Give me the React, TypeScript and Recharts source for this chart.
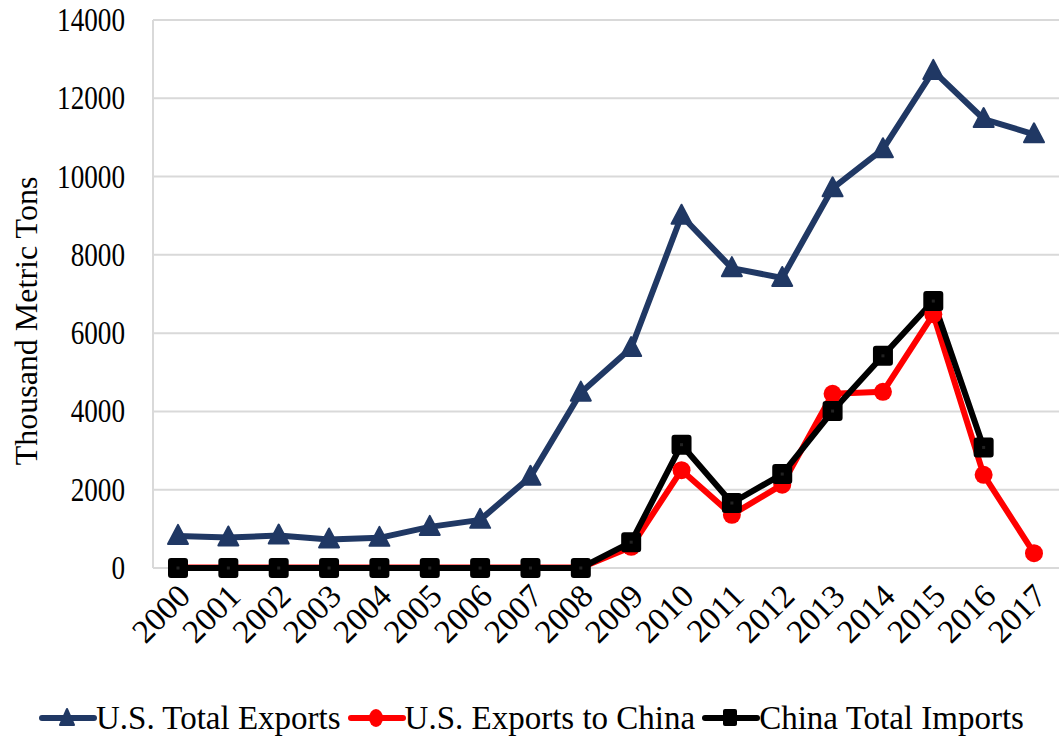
import React from "react";
import { LineChart, Line, XAxis, YAxis, CartesianGrid } from "recharts";

const years = ["2000","2001","2002","2003","2004","2005","2006","2007","2008","2009","2010","2011","2012","2013","2014","2015","2016","2017"];
const usTotalExports = [820,780,830,730,770,1050,1230,2330,4480,5620,9000,7660,7410,9700,10700,12700,11470,11080];
const usExportsToChina = [10,10,10,10,10,10,10,10,10,540,2500,1360,2130,4450,4500,6480,2380,380];
const chinaTotalImports = [0,0,0,0,0,0,0,0,0,660,3150,1660,2400,4010,5420,6820,3080,null];
const yTicks = [0,2000,4000,6000,8000,10000,12000,14000];

const data = years.map((y, i) => ({
  year: y,
  total: usTotalExports[i],
  china: usExportsToChina[i],
  imports: chinaTotalImports[i],
}));

const NAVY = "#203864";
const FONT = "'Liberation Serif', 'Times New Roman', serif";

const Triangle = (props: any) => {
  const { cx, cy } = props;
  if (cx == null || cy == null) return null;
  const s = 10;
  return <path d={`M${cx},${cy - s - 1} L${cx + s},${cy + s - 2} L${cx - s},${cy + s - 2} Z`} fill={NAVY} stroke={NAVY} strokeWidth={2} strokeLinejoin="round" />;
};
const Dot = (props: any) => {
  const { cx, cy } = props;
  if (cx == null || cy == null) return null;
  return <circle cx={cx} cy={cy} r={9} fill="#FF0000" />;
};
const Square = (props: any) => {
  const { cx, cy, payload } = props;
  if (cx == null || cy == null || payload?.imports == null) return null;
  return (
    <g>
      <rect x={cx - 9} y={cy - 9} width={18} height={18} rx={2} fill="#000" stroke="#000" strokeWidth={2} />
      <rect x={cx - 1.5} y={cy - 1.5} width={3} height={3} fill="#222" />
    </g>
  );
};

const XTick = (props: any) => {
  const { x, y, payload } = props;
  return (
    <g transform={`translate(${x + 7},${y + 15})`}>
      <text textAnchor="end" transform="rotate(-45)" fontFamily={FONT} fontSize={33} fill="#000" dy={10}>
        {payload.value}
      </text>
    </g>
  );
};

const YTick = (props: any) => {
  const { x, y, payload } = props;
  return (
    <g transform={`translate(${x},${y})`}>
      <text textAnchor="end" transform="scale(0.8,1)" fontFamily={FONT} fontSize={34} fill="#000" dy={11}>
        {payload.value}
      </text>
    </g>
  );
};

const YTitle = (props: any) => {
  const vb = props.viewBox || {};
  const cx = (vb.x ?? 0) + 26;
  const cy = (vb.y ?? 0) + (vb.height ?? 0) / 2 + 27;
  return (
    <text x={cx} y={cy} transform={`rotate(-90, ${cx}, ${cy})`} textAnchor="middle" dominantBaseline="central" fontFamily={FONT} fontSize={32} fill="#000">
      Thousand Metric Tons
    </text>
  );
};

const LegendItem = ({ kind, label }: { kind: string; label: string }) => {
  let marker: any = null;
  if (kind === "tri") marker = <path d="M29,5 L36,21 L22,21 Z" fill={NAVY} stroke={NAVY} strokeWidth={2} strokeLinejoin="round" />;
  if (kind === "dot") marker = <ellipse cx={29} cy={14} rx={7} ry={9} fill="#FF0000" />;
  if (kind === "sq") marker = <rect x={22} y={5} width={14} height={17} rx={2} fill="#000" />;
  const color = kind === "tri" ? NAVY : kind === "dot" ? "#FF0000" : "#000";
  return (
    <span style={{ display: "inline-flex", alignItems: "center" }}>
      <svg width={60} height={28}>
        <line x1={4} y1={14} x2={56} y2={14} stroke={color} strokeWidth={6} strokeLinecap="round" />
        {marker}
      </svg>
      <span style={{ fontFamily: FONT, fontSize: 33, color: "#000", marginLeft: -2, lineHeight: "36px" }}>{label}</span>
    </span>
  );
};

export default function App() {
  return (
    <div style={{ position: "absolute", left: 0, top: 0, width: 1059, height: 740, background: "#fff" }}>
      <LineChart width={1059} height={680} data={data} margin={{ top: 20, right: 0, bottom: 0, left: 0 }}>
        <CartesianGrid vertical={false} stroke="#d9d9d9" strokeWidth={2} />
        <XAxis
          dataKey="year"
          tick={<XTick />}
          tickLine={false}
          axisLine={false}
          height={112}
          interval={0}
          padding={{ left: 25, right: 25 }}
        />
        <YAxis
          domain={[0, 14000]}
          ticks={yTicks}
          width={153}
          tickLine={false}
          axisLine={{ stroke: "#d9d9d9", strokeWidth: 2 }}
          tick={<YTick />}
          tickMargin={22}
          label={<YTitle />}
        />
        <Line dataKey="total" stroke={NAVY} strokeWidth={6} dot={<Triangle />} isAnimationActive={false} strokeLinejoin="round" />
        <Line dataKey="china" stroke="#FF0000" strokeWidth={6} dot={<Dot />} isAnimationActive={false} strokeLinejoin="round" />
        <Line dataKey="imports" stroke="#000" strokeWidth={6} dot={<Square />} isAnimationActive={false} strokeLinejoin="round" connectNulls={false} />
      </LineChart>
      <div style={{ position: "absolute", left: 38, top: 700, width: 1020, display: "flex", gap: 6, whiteSpace: "nowrap" }}>
        <LegendItem kind="tri" label="U.S. Total Exports" />
        <LegendItem kind="dot" label="U.S. Exports to China" />
        <LegendItem kind="sq" label="China Total Imports" />
      </div>
    </div>
  );
}
